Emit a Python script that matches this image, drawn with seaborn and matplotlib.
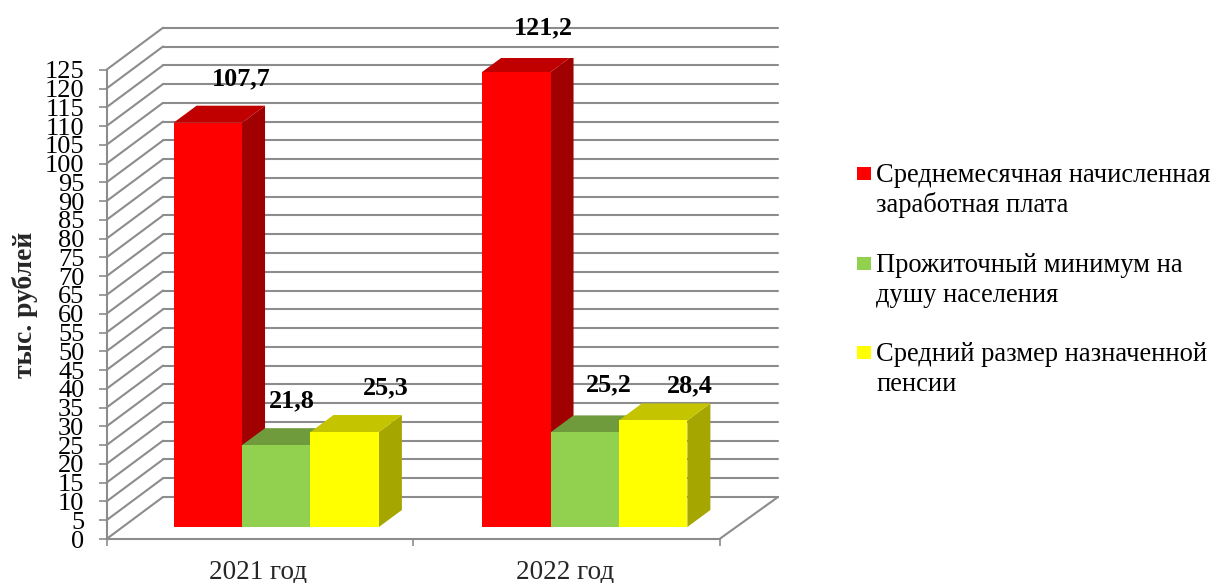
import pandas as pd
import seaborn as sns
import matplotlib.pyplot as plt
from matplotlib.patches import Polygon, Rectangle
from matplotlib.transforms import Affine2D

years = ['2021 год', '2022 год']
series_names = ['Среднемесячная начисленная\nзаработная плата',
                'Прожиточный минимум на\nдушу населения',
                'Средний размер назначенной\nпенсии']
salary = [107.7, 121.2]
minimum = [21.8, 25.2]
pension = [25.3, 28.4]
y_ticks = list(range(0, 130, 5))

W, H = 1216, 583
FONT = 'Liberation Serif'
GREY = '#8c8c8c'
front_colors = ['#ff0000', '#92d050', '#ffff00']
top_colors = ['#c00000', '#6f9b3c', '#c4c400']
side_colors = ['#a00000', '#5a7f30', '#a6a600']

sns.set_theme(style='white')
plt.rcParams['font.family'] = FONT

df = pd.DataFrame({
    'year': years * 3,
    'series': [series_names[0]] * 2 + [series_names[1]] * 2 + [series_names[2]] * 2,
    'value': salary + minimum + pension,
})

fig = plt.figure(figsize=(W / 100, H / 100), dpi=100)


def box(x0, x1, y_top, y_bot):
    # pixel box (origin top-left) to figure fractions
    return [x0 / W, 1 - y_bot / H, (x1 - x0) / W, (y_bot - y_top) / H]


# front plane of the box: holds the axis lines, ticks and labels
ax_box = fig.add_axes(box(106.5, 719.5, 69.75, 539))
ax_box.set_xlim(0, 2)
ax_box.set_ylim(0, 125)
ax_box.patch.set_visible(False)
for s in ['top', 'right']:
    ax_box.spines[s].set_visible(False)
for s in ['left', 'bottom']:
    ax_box.spines[s].set_color(GREY)
    ax_box.spines[s].set_linewidth(1.5)
ax_box.set_yticks(y_ticks)
ax_box.set_yticklabels([str(t) for t in y_ticks], fontsize=19, color='black')
ax_box.set_xticks([0, 1, 2])
ax_box.set_xticklabels([])
ax_box.set_xticks([0.493, 1.495], labels=years, minor=True, fontsize=19.5)
ax_box.tick_params(axis='x', which='major', length=5, width=1.2, color=GREY, bottom=True)
ax_box.tick_params(axis='x', which='minor', length=0, pad=15, bottom=True)
ax_box.tick_params(axis='y', length=6, width=1.2, color=GREY, pad=10, left=True)
ax_box.set_ylabel('тыс. рублей', fontsize=19.8, fontweight='bold')
ax_box.yaxis.set_label_coords((38 - 106.5) / 613, 0.5)

# walls and floor
depth = (56.5, 42)
back = ax_box.transData + Affine2D().translate(*depth)
for t in y_ticks:
    ax_box.plot([0, 2.007], [t, t], color=GREY, lw=1.5, transform=back, clip_on=False, zorder=1)
    p0 = ax_box.transData.transform((0, t))
    ax_box.plot([p0[0], p0[0] + depth[0]], [p0[1], p0[1] + depth[1]], color=GREY, lw=1.5,
                transform=None, clip_on=False, zorder=1)
p0 = ax_box.transData.transform((2, 0))
ax_box.plot([p0[0], p0[0] + 58.5], [p0[1], p0[1] + depth[1]], color=GREY, lw=1.5,
            transform=None, clip_on=False, zorder=1)

# bars
ax = fig.add_axes(box(122, 739, 57.75, 527))
ax.patch.set_visible(False)
sns.barplot(data=df, x='year', y='value', hue='series', hue_order=series_names,
            palette=dict(zip(series_names, front_colors)), width=0.6655, gap=0,
            saturation=1, legend=False, ax=ax)
ax.set_xlim(-0.5, 1.5)
ax.set_ylim(0, 125)
ax.axis('off')

bar_depth = (23, 17)
label_dx = [[33, 27], [16, 24], [41.5, 37]]
label_dy = [[43.5, 44], [44, 47.5], [44, 34.5]]
for g in range(len(years)):
    for i, cont in enumerate(ax.containers):
        bar = cont[g]
        z = 3 + g * 10 + i * 3
        x0, y0 = ax.transData.transform((bar.get_x(), 0))
        x1, y1 = ax.transData.transform((bar.get_x() + bar.get_width(), bar.get_height()))
        dx, dy = bar_depth
        bar.set_zorder(z + 2)
        bar.set_linewidth(0)
        ax.add_patch(Polygon([(x1, y0), (x1 + dx, y0 + dy), (x1 + dx, y1 + dy), (x1, y1)],
                             closed=True, color=side_colors[i], lw=0, transform=None, zorder=z))
        ax.add_patch(Polygon([(x0, y1), (x0 + dx, y1 + dy), (x1 + dx, y1 + dy), (x1, y1)],
                             closed=True, color=top_colors[i], lw=0, transform=None, zorder=z + 1))
        val = bar.get_height()
        ax.annotate(f'{val:.1f}'.replace('.', ','),
                    (bar.get_x() + bar.get_width() / 2, val),
                    xytext=(label_dx[i][g], label_dy[i][g]), textcoords='offset pixels',
                    ha='center', va='center', fontsize=18.8, fontweight='bold',
                    color='black', zorder=50, annotation_clip=False)

# legend, handle sits on the first text line, one text per line for even spacing
legend_base = [182, 272, 361]
for i, name in enumerate(series_names):
    b = legend_base[i]
    fig.add_artist(Rectangle((857 / W, 1 - (b - 2) / H), 13.5 / W, 13.5 / H,
                             transform=fig.transFigure, color=front_colors[i], lw=0))
    for k, line in enumerate(name.split('\n')):
        fig.text(876 / W, 1 - (b + 30 * k) / H, line, fontsize=19.1, color='black',
                 ha='left', va='baseline')

fig.savefig('out.png', dpi=100)
